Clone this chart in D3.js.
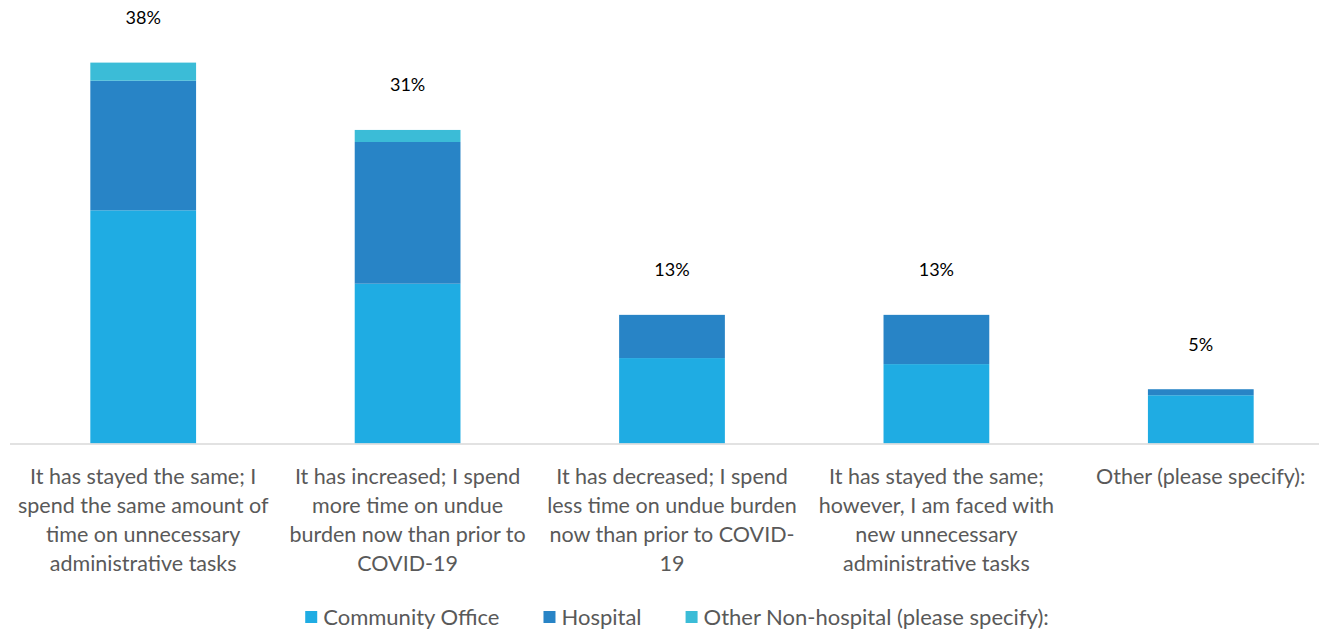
<!DOCTYPE html>
<html lang="en">
<head>
  <meta charset="UTF-8">
  <title>Undue burden since COVID-19</title>
  <style>
    body { margin: 0; background: #fff; }
    svg { display: block; font-family: Lato, "Open Sans", sans-serif; }
  </style>
</head>
<body>
  <svg width="1319" height="630"></svg>

  <script src="https://d3js.org/d3.v7.min.js"></script>
  <script>
    // category labels, already wrapped as in the original
    const categories = [
      ["It has stayed the same; I", "spend the same amount of", "time on unnecessary", "administrative tasks"],
      ["It has increased; I spend", "more time on undue", "burden now than prior to", "COVID-19"],
      ["It has decreased; I spend", "less time on undue burden", "now than prior to COVID-", "19"],
      ["It has stayed the same;", "however, I am faced with", "new unnecessary", "administrative tasks"],
      ["Other (please specify):"]
    ];
    const seriesNames = ["Community Office", "Hospital", "Other Non-hospital (please specify):"];
    const communityOffice = [23.2, 15.9, 8.5, 7.9, 4.8];
    const hospital = [12.9, 14.1, 4.3, 4.9, 0.6];
    const otherNonHospital = [1.8, 1.2, 0, 0, 0];
    const totalLabels = ["38%", "31%", "13%", "13%", "5%"];
    const colors = ["#1FACE3", "#2884C6", "#3BBCD7"];

    const svg = d3.select("svg");
    const baseY = 443.5;

    const x = d3.scaleBand()
      .domain(d3.range(categories.length))
      .range([11, 1333])
      .paddingInner(0.6)
      .paddingOuter(0.3);
    const y = d3.scaleLinear().domain([0, 40]).range([baseY, baseY - 402]);

    const rows = categories.map((c, i) => ({
      i: i,
      community: communityOffice[i],
      hospital: hospital[i],
      other: otherNonHospital[i]
    }));
    const keys = ["community", "hospital", "other"];
    const stacked = d3.stack().keys(keys)(rows);

    // bars
    svg.append("g").selectAll("g")
      .data(stacked)
      .join("g")
        .attr("fill", (d, k) => colors[k])
      .selectAll("rect")
      .data(d => d.filter(s => s[1] - s[0] > 0))
      .join("rect")
        .attr("x", d => x(d.data.i))
        .attr("width", x.bandwidth())
        .attr("y", d => y(d[1]))
        .attr("height", d => y(d[0]) - y(d[1]));

    // axis line
    svg.append("line")
      .attr("x1", 10).attr("x2", 1319)
      .attr("y1", baseY + 0.5).attr("y2", baseY + 0.5)
      .attr("stroke", "#D9D9D9").attr("stroke-width", 1.5);

    // total labels above the bars
    svg.append("g").selectAll("text")
      .data(rows)
      .join("text")
        .attr("x", d => x(d.i) + x.bandwidth() / 2)
        .attr("y", d => y(d.community + d.hospital + d.other) - 45)
        .attr("dy", "0.35em")
        .attr("text-anchor", "middle")
        .attr("font-size", 18)
        .attr("fill", "#000")
        .text((d, i) => totalLabels[i]);

    // category tick labels
    const tickG = svg.append("g").selectAll("text")
      .data(categories)
      .join("text")
        .attr("x", (d, i) => x(i) + x.bandwidth() / 2)
        .attr("y", 476)
        .attr("text-anchor", "middle")
        .attr("font-size", 21.5)
        .attr("fill", "#595959");
    tickG.selectAll("tspan")
      .data(d => d)
      .join("tspan")
        .attr("x", function () { return this.parentNode.getAttribute("x"); })
        .attr("dy", (d, j) => j === 0 ? "0.35em" : 29)
        .text(d => d);

    // legend
    const legend = svg.append("g");
    let lx = 0;
    seriesNames.forEach((name, k) => {
      const item = legend.append("g").attr("transform", `translate(${lx},0)`);
      item.append("rect").attr("x", 0).attr("y", -6).attr("width", 12).attr("height", 12).attr("fill", colors[k]);
      const t = item.append("text")
        .attr("x", 18).attr("dy", "0.35em")
        .attr("font-size", 22).attr("fill", "#595959")
        .text(name);
      lx += 18 + t.node().getComputedTextLength() + 44;
    });
    const legendW = lx - 44;
    legend.attr("transform", `translate(${677 - legendW / 2},617)`);
  </script>
</body>
</html>
